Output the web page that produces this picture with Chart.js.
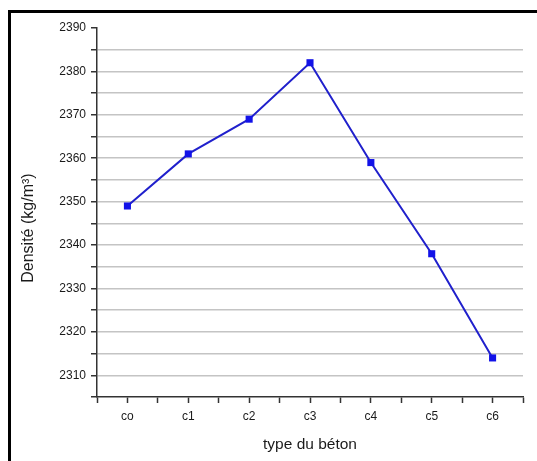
<!DOCTYPE html>
<html>
<head>
<meta charset="utf-8">
<script src="https://cdn.jsdelivr.net/npm/chart.js@4"></script>
<style>
    html, body { margin: 0; padding: 0; background: #fff; }
    #wrap { position: relative; width: 537px; height: 461px; overflow: hidden; }
    #frame { position: absolute; left: 8px; top: 10px; width: 600px; height: 500px;
             border-left: 3px solid #000; border-top: 3px solid #000; }
    #densityChart { position: absolute; left: 0; top: 0; }
</style>
</head>
<body>
<div id="wrap">
    <div id="frame"></div>
    <canvas id="densityChart" width="537" height="461"></canvas>
</div>
<script>
// types de béton et densités mesurées
const categories = ['co', 'c1', 'c2', 'c3', 'c4', 'c5', 'c6'];
const densities = [2349, 2361, 2369, 2382, 2359, 2338, 2314];
const yTickLabels = [2310, 2320, 2330, 2340, 2350, 2360, 2370, 2380, 2390];

const axisColor = '#333';
const gridColor = '#c4c4c4';
const tickFont = { family: 'Liberation Sans, Arial, sans-serif', size: 12 };
const titleFont = { family: 'Liberation Sans, Arial, sans-serif', size: 16 };

// trailing nbsp pushes the rotated title a bit lower, like in the original
const yTitle = 'Densité (kg/m³)' + '\u00a0'.repeat(7);

const ctx = document.getElementById('densityChart').getContext('2d');
const densityChart = new Chart(ctx, {
    type: 'line',
    data: {
        datasets: [{
            data: densities.map((v, i) => ({ x: i, y: v })),
            borderColor: '#2020cc',
            borderWidth: 2,
            pointStyle: 'rect',
            pointRadius: 5,
            pointBackgroundColor: '#1212e8',
            pointBorderColor: '#1212e8',
            pointBorderWidth: 0,
            tension: 0
        }]
    },
    options: {
        responsive: false,
        animation: false,
        layout: { padding: { top: 28, right: 14, bottom: 0, left: 0 } },
        plugins: { legend: { display: false }, tooltip: { enabled: false } },
        scales: {
            x: {
                type: 'linear',
                min: -0.5,
                max: 6.5,
                afterFit: (scale) => { scale.height = 64; },
                border: { color: axisColor, width: 1.5 },
                grid: { drawOnChartArea: false, drawTicks: true, tickLength: 6, tickColor: axisColor, tickWidth: 1.5 },
                ticks: {
                    stepSize: 0.5,
                    maxTicksLimit: 30,
                    autoSkip: false,
                    maxRotation: 0,
                    padding: 6,
                    color: '#1a1a1a',
                    font: tickFont,
                    callback: (value) => Number.isInteger(value) ? categories[value] : ''
                },
                title: { display: true, text: 'type du béton', color: '#1a1a1a', font: { ...titleFont, size: 15.5 }, padding: { top: 0, bottom: 7 } }
            },
            y: {
                min: 2305,
                max: 2390,
                afterFit: (scale) => { scale.width = 97; },
                border: { color: axisColor, width: 1.5 },
                grid: {
                    color: (c) => (c.tick && (c.tick.value === 2390 || c.tick.value === 2305)) ? 'rgba(0,0,0,0)' : gridColor,
                    lineWidth: 1.5,
                    tickLength: 6,
                    tickColor: axisColor,
                    tickWidth: 1.5
                },
                ticks: {
                    stepSize: 5,
                    maxTicksLimit: 30,
                    autoSkip: false,
                    padding: 5,
                    color: '#1a1a1a',
                    font: tickFont,
                    callback: (value) => yTickLabels.includes(value) ? String(value) : ''
                },
                title: { display: true, text: yTitle, color: '#1a1a1a', font: titleFont, padding: { top: 19, bottom: 0 } }
            }
        }
    }
});
</script>
</body>
</html>
